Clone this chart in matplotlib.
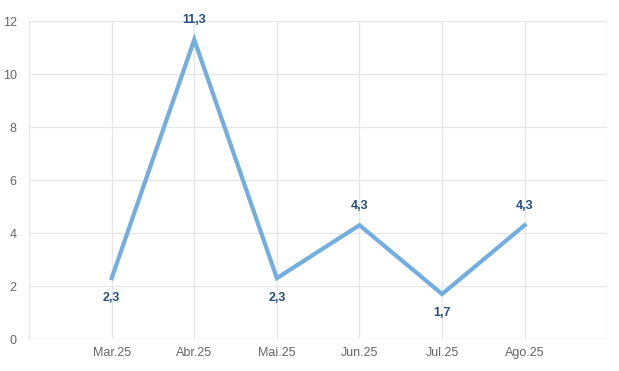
import matplotlib
matplotlib.use('Agg')
import matplotlib.pyplot as plt

plt.rcParams['font.family'] = ['Liberation Sans', 'DejaVu Sans']

# Daten
meses = ['Mar.25', 'Abr.25', 'Mai.25', 'Jun.25', 'Jul.25', 'Ago.25']
valores = [2.3, 11.3, 2.3, 4.3, 1.7, 4.3]
posicao_rotulo = ['abaixo', 'acima', 'abaixo', 'acima', 'abaixo', 'acima']

fig = plt.figure(figsize=(6.19, 3.71), dpi=100)
ax = fig.add_axes([0.047, 0.086, 0.934, 0.857])

x = list(range(len(meses)))
ax.plot(x, valores, color='#72aee0', linewidth=3, solid_joinstyle='miter', zorder=3)

# Rotulos nos pontos
for xi, v, pos in zip(x, valores, posicao_rotulo):
    dy = 14 if pos == 'acima' else -14
    ax.annotate(f'{v:.1f}'.replace('.', ','), (xi, v), xytext=(0, dy),
                textcoords='offset points', ha='center', va='center',
                fontsize=9, fontweight='bold', color='#24507e')

ax.set_xlim(-1, 6)
ax.set_ylim(0, 12)
ax.set_yticks(range(0, 13, 2))
ax.set_xticks(range(-1, 7))
ax.set_xticklabels([''] + meses + [''])

for s in ax.spines.values():
    s.set_visible(False)
ax.grid(True, color='#e6e6e6', linewidth=0.9)
ax.set_axisbelow(True)
ax.tick_params(length=0, labelsize=9, colors='#666666', pad=6)
ax.tick_params(axis='y', pad=9)

fig.savefig('out.png', dpi=100)
